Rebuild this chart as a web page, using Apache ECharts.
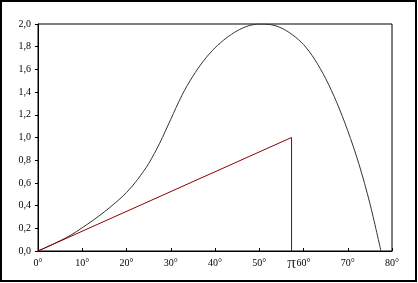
<!DOCTYPE html>
<html>
<head>
<meta charset="utf-8">
<script src="https://cdn.jsdelivr.net/npm/echarts@6/dist/echarts.min.js"></script>
<style>html,body{margin:0;padding:0;background:#fff}#c{width:418px;height:283px}</style>
</head>
<body>
<div id="c"></div>
<script>
// Black curve (x in degrees, y value)
var curveDeg = [0, 2.5, 5, 7.5, 10, 12.5, 15, 17.5, 20, 22.5, 25, 27.5, 30, 32.5, 35, 37.5, 40, 42.5, 45, 47.5, 50, 52.5, 55, 57.5, 60, 62.5, 65, 67.5, 70, 72.5, 75, 77.5];
var curveVal = [0, 0.044, 0.09, 0.142, 0.205, 0.272, 0.345, 0.425, 0.515, 0.63, 0.77, 0.95, 1.16, 1.37, 1.54, 1.68, 1.79, 1.875, 1.94, 1.983, 2.0, 1.995, 1.965, 1.905, 1.82, 1.69, 1.52, 1.31, 1.06, 0.77, 0.42, 0];
// Red line: from origin to (1 rad in degrees, 1) then down to axis
var redDeg = [0, 57.2958, 57.2958];
var redVal = [0, 1, 0];
// Special x label
var piLabel = ['π'];
var piDeg = [57.2958];

var serif = '"Liberation Serif","Times New Roman",serif';
function zip(a, b) { return a.map(function (v, i) { return [v, b[i]]; }); }

var chart = echarts.init(document.getElementById('c'));
chart.setOption({
  animation: false,
  backgroundColor: '#fff',
  grid: { left: 38, right: 26, top: 24, bottom: 32, show: true, borderColor: '#000', borderWidth: 1, backgroundColor: 'transparent' },
  xAxis: {
    type: 'value', min: 0, max: 80, interval: 10,
    axisLine: { lineStyle: { color: '#000', width: 1 } },
    axisTick: { inside: true, length: 3, lineStyle: { color: '#000' } },
    axisLabel: { color: '#000', fontFamily: serif, fontSize: 10, margin: 7, formatter: '{value}°' },
    splitLine: { show: false }
  },
  yAxis: {
    type: 'value', min: 0, max: 2, interval: 0.2,
    axisLine: { show: true, lineStyle: { color: '#000', width: 1 } },
    axisTick: { show: true, inside: false, length: 3, lineStyle: { color: '#000' } },
    axisLabel: { color: '#000', fontFamily: serif, fontSize: 10, margin: 7,
      formatter: function (v) { return v.toFixed(1).replace('.', ','); } },
    splitLine: { show: false }
  },
  series: [
    { type: 'line', data: zip(curveDeg, curveVal), smooth: 0.3, symbol: 'none',
      lineStyle: { color: '#333', width: 1 }, z: 3 },
    { type: 'line', data: zip(redDeg, redVal), symbol: 'none',
      lineStyle: { color: '#8b0000', width: 1 }, z: 4 },
    { type: 'scatter', data: zip(piDeg, [0]), symbolSize: 0, silent: true,
      label: { show: true, position: 'bottom', distance: 4, formatter: function (p) { return piLabel[p.dataIndex]; },
        color: '#000', fontFamily: serif, fontSize: 17 } }
  ],
  graphic: [
    { type: 'rect', shape: { x: 1, y: 1, width: 415, height: 280 }, style: { fill: 'none', stroke: '#000', lineWidth: 2 }, silent: true }
  ]
});
</script>
</body>
</html>
